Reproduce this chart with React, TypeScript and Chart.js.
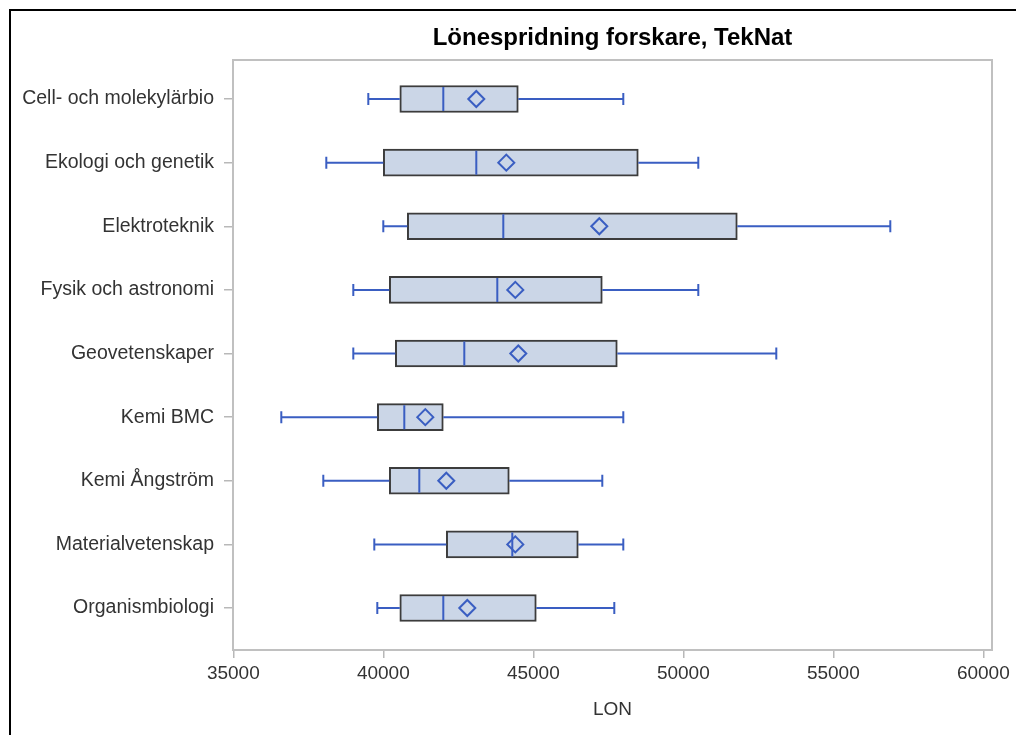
import React, { useEffect, useRef } from "react";
import { Chart, registerables } from "chart.js";

Chart.register(...registerables);

const categories = [
  "Cell- och molekylärbio",
  "Ekologi och genetik",
  "Elektroteknik",
  "Fysik och astronomi",
  "Geovetenskaper",
  "Kemi BMC",
  "Kemi Ångström",
  "Materialvetenskap",
  "Organismbiologi",
];
const whiskerLow = [39500, 38100, 40000, 39000, 39000, 36600, 38000, 39700, 39800];
const q1 = [40550, 40000, 40800, 40200, 40400, 39800, 40200, 42100, 40550];
const median = [42000, 43100, 44000, 43800, 42700, 40700, 41200, 44300, 42000];
const mean = [43100, 44100, 47200, 44400, 44500, 41400, 42100, 44400, 42800];
const q3 = [44500, 48500, 51800, 47300, 47800, 42000, 44200, 46500, 45100];
const whiskerHigh = [48000, 50500, 56900, 50500, 53100, 48000, 47300, 48000, 47700];
const xTicks = [35000, 40000, 45000, 50000, 55000, 60000];

const BLUE = "#3a5ec2";
const BOX_FILL = "#cbd6e7";
const BOX_EDGE = "#3c3c3c";
const FRAME = "#c0c0c0";
const FONT = "'Liberation Sans', Arial, sans-serif";

const boxPlugin = {
  id: "boxExtras",
  afterDatasetDraw(chart: any, args: any) {
    if (args.index !== 0) return;
    const { ctx } = chart;
    const x = chart.scales.x;
    const y = chart.scales.y;
    ctx.save();
    ctx.strokeStyle = BLUE;
    ctx.lineWidth = 2;
    categories.forEach((_, i) => {
      const cy = y.getPixelForValue(i);
      const pLow = x.getPixelForValue(whiskerLow[i]);
      const pQ1 = x.getPixelForValue(q1[i]);
      const pQ3 = x.getPixelForValue(q3[i]);
      const pHigh = x.getPixelForValue(whiskerHigh[i]);
      const pMed = x.getPixelForValue(median[i]);
      ctx.beginPath();
      ctx.moveTo(pLow, cy);
      ctx.lineTo(pQ1, cy);
      ctx.moveTo(pQ3, cy);
      ctx.lineTo(pHigh, cy);
      ctx.moveTo(pLow, cy - 6);
      ctx.lineTo(pLow, cy + 6);
      ctx.moveTo(pHigh, cy - 6);
      ctx.lineTo(pHigh, cy + 6);
      ctx.moveTo(pMed, cy - 12);
      ctx.lineTo(pMed, cy + 12);
      ctx.stroke();
    });
    ctx.restore();
  },
  afterDraw(chart: any) {
    const { ctx, chartArea } = chart;
    ctx.save();
    ctx.strokeStyle = FRAME;
    ctx.lineWidth = 2;
    ctx.strokeRect(chartArea.left, chartArea.top, chartArea.right - chartArea.left, chartArea.bottom - chartArea.top);
    ctx.restore();
  },
};

export default function App() {
  const ref = useRef<HTMLCanvasElement | null>(null);

  useEffect(() => {
    if (!ref.current) return;
    const chart = new Chart(ref.current, {
      type: "bar",
      data: {
        datasets: [
          {
            type: "bar",
            indexAxis: "y",
            order: 2,
            data: q1.map((v, i) => ({ x: [v, q3[i]], y: i })) as any,
            backgroundColor: BOX_FILL,
            borderColor: BOX_EDGE,
            borderWidth: 2,
            borderSkipped: false,
            barThickness: 27,
          } as any,
          {
            type: "scatter",
            order: 1,
            data: mean.map((m, i) => ({ x: m, y: i })),
            pointStyle: "rectRot",
            pointRadius: 8,
            pointBorderWidth: 2,
            pointBorderColor: BLUE,
            pointBackgroundColor: "rgba(0,0,0,0)",
          } as any,
        ],
      },
      options: {
        indexAxis: "y",
        responsive: false,
        animation: false,
        layout: { padding: { left: 0, right: 24, top: 0, bottom: 0 } },
        plugins: {
          legend: { display: false },
          tooltip: { enabled: false },
          title: {
            display: true,
            text: "Lönespridning forskare, TekNat",
            fullSize: false,
            color: "#000",
            font: { family: FONT, size: 24, weight: "bold" },
            padding: { top: 12.6, bottom: 7.6 },
          },
        },
        scales: {
          x: {
            type: "linear",
            offset: false,
            min: 34990,
            max: 60290,
            afterBuildTicks: (s: any) => {
              s.ticks = xTicks.map((v) => ({ value: v }));
            },
            afterFit: (s: any) => {
              s.height = 85;
            },
            ticks: {
              callback: (v: any) => String(v),
              color: "#333",
              font: { family: FONT, size: 19 },
              padding: 4,
              maxRotation: 0,
              autoSkip: false,
            },
            grid: {
              display: true,
              offset: false,
              drawOnChartArea: false,
              drawTicks: true,
              tickLength: 8,
              color: "#b8b8b8",
              lineWidth: 1.5,
            },
            border: { display: false },
            title: {
              display: true,
              text: "LON",
              color: "#333",
              font: { family: FONT, size: 19 },
              padding: { top: 4, bottom: 13.6 },
            },
          },
          y: {
            type: "linear",
            offset: false,
            reverse: true,
            min: -0.613,
            max: 8.66,
            afterBuildTicks: (s: any) => {
              s.ticks = categories.map((_, i) => ({ value: i }));
            },
            afterFit: (s: any) => {
              s.width = 222;
            },
            ticks: {
              callback: (v: any) => (Number.isInteger(v) ? categories[v] : ""),
              color: "#333",
              font: { family: FONT, size: 19.5 },
              padding: 10,
              autoSkip: false,
            },
            grid: {
              display: true,
              offset: false,
              drawOnChartArea: false,
              drawTicks: true,
              tickLength: 9,
              color: "#b8b8b8",
              lineWidth: 1.5,
            },
            border: { display: false },
          },
        },
      } as any,
      plugins: [boxPlugin],
    });
    return () => chart.destroy();
  }, []);

  return (
    <div
      style={{
        position: "fixed",
        left: 9,
        top: 9,
        width: 1007,
        height: 726,
        borderLeft: "2px solid #000",
        borderTop: "2px solid #000",
        background: "#fff",
      }}
    >
      <canvas ref={ref} width={1005} height={724} style={{ display: "block" }} />
    </div>
  );
}
